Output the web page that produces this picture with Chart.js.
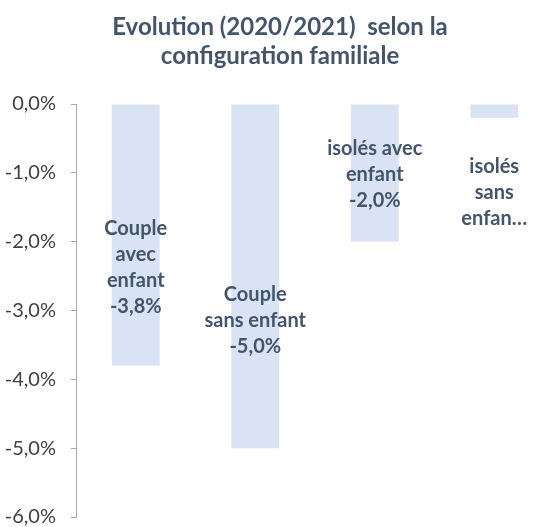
<!DOCTYPE html>
<html>
<head>
<meta charset="utf-8">
<script src="https://cdn.jsdelivr.net/npm/chart.js@4.4.0/dist/chart.umd.min.js"></script>
<style>
html, body { margin: 0; padding: 0; background: #fff; overflow: hidden; }
#wrap { width: 554px; height: 527px; }
</style>
</head>
<body>
<div id="wrap"><canvas id="myChart"></canvas></div>
<script>
// données
var categories = ['Couple avec enfant', 'Couple sans enfant', 'isolés avec enfant', 'isolés sans enfant'];
var evolution = [-3.8, -5.0, -2.0, -0.2];
var labelLines = [
    ['Couple', 'avec', 'enfant', '-3,8%'],
    ['Couple', 'sans enfant', '-5,0%'],
    ['isolés avec', 'enfant', '-2,0%'],
    ['isolés', 'sans', 'enfan…']
];
// centre vertical des étiquettes, en valeur de l'axe
var labelCenter = [-2.37, -3.14, -1.02, -1.29];
var titleLines = ['Evolution (2020/2021)  selon la', 'configuration familiale'];

var textColor = '#44546A';
var fontFamily = 'Lato';

var barLabels = {
    id: 'barLabels',
    afterDatasetsDraw: function(chart) {
        var ctx = chart.ctx;
        var meta = chart.getDatasetMeta(0);
        var yScale = chart.scales.y;
        ctx.save();
        ctx.font = 'bold 20px ' + fontFamily;
        ctx.fillStyle = textColor;
        ctx.textAlign = 'center';
        ctx.textBaseline = 'middle';
        meta.data.forEach(function(bar, i) {
            var lines = labelLines[i];
            var lh = 26;
            var top = yScale.getPixelForValue(labelCenter[i]) - (lines.length - 1) * lh / 2;
            lines.forEach(function(t, j) {
                ctx.fillText(t, bar.x, top + j * lh);
            });
        });
        ctx.restore();
    }
};

var ctx = document.getElementById('myChart').getContext('2d');
var chart = new Chart(ctx, {
    type: 'bar',
    data: {
        labels: categories,
        datasets: [{
            data: evolution,
            backgroundColor: '#DAE3F3',
            barPercentage: 0.4,
            categoryPercentage: 1
        }]
    },
    options: {
        responsive: true,
        maintainAspectRatio: false,
        animation: false,
        layout: { padding: { left: 6, right: 0, top: 0, bottom: 10 } },
        plugins: {
            legend: { display: false },
            tooltip: { enabled: false },
            title: {
                display: true,
                text: titleLines,
                color: textColor,
                font: { family: fontFamily, size: 24, weight: 'bold', lineHeight: 29 / 24 },
                padding: { top: 13, bottom: 33 }
            }
        },
        scales: {
            x: { display: false },
            y: {
                min: -6,
                max: 0,
                ticks: {
                    stepSize: 1,
                    color: '#404040',
                    padding: 15,
                    font: { family: fontFamily, size: 20 },
                    callback: function(v) { return v.toFixed(1).replace('.', ',') + '%'; }
                },
                grid: { drawOnChartArea: false, color: '#A6A6A6', tickLength: 5 },
                border: { color: '#A6A6A6' },
                afterFit: function(s) {
                    s.width = 70;
                    s.paddingTop = 0;
                    s.paddingBottom = 10;
                }
            }
        }
    },
    plugins: [barLabels]
});
</script>
</body>
</html>
